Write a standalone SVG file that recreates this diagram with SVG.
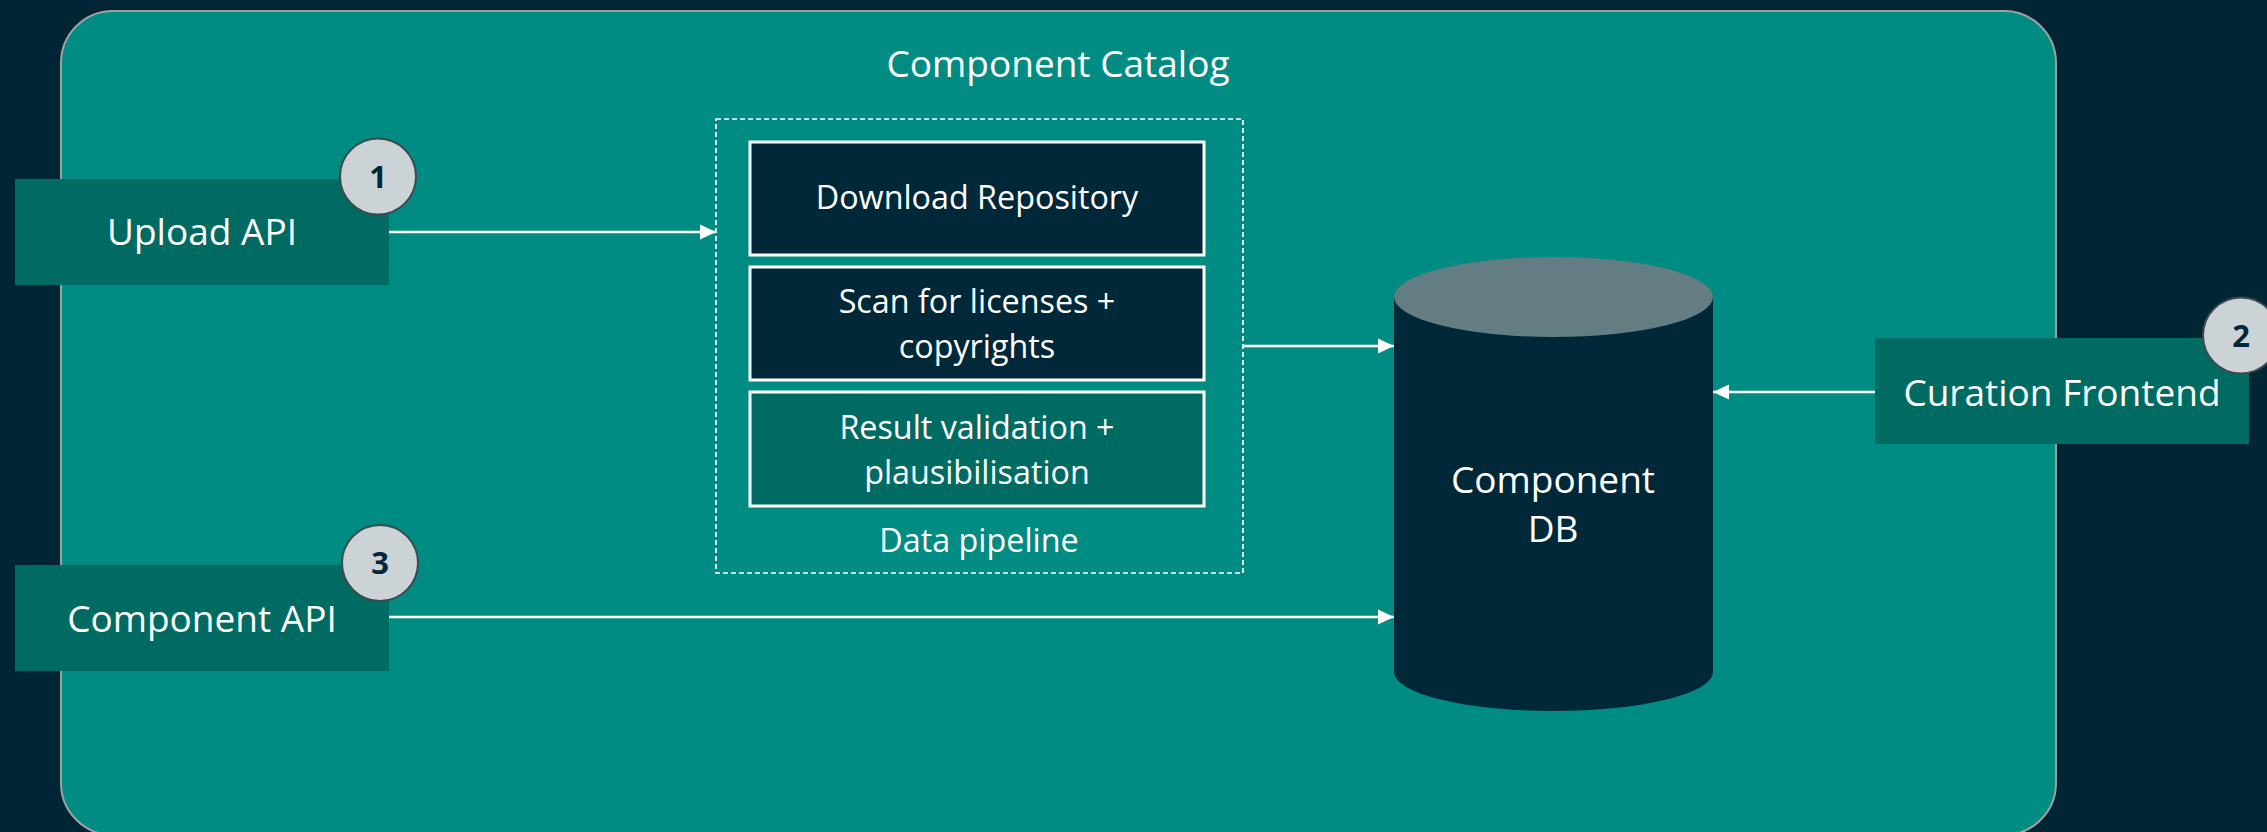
<svg xmlns="http://www.w3.org/2000/svg" width="2267" height="832" viewBox="0 0 2267 832">
  <style>
    .lbl { font-family: "Open Sans", "Noto Sans", "DejaVu Sans", sans-serif; fill: #ffffff; text-anchor: middle; }
    .big { font-size: 37px; }
    .mid { font-size: 32.3px; }
    .node { fill: #006B62; }
    .step { stroke: #ffffff; stroke-width: 3; }
    .dark { fill: #002838; }
    .badge circle { fill: #CCD3D7; stroke: #3D4850; stroke-width: 2; }
    .badge text { font-family: "Open Sans", "Noto Sans", "DejaVu Sans", sans-serif; font-weight: bold; font-size: 31px; fill: #002838; text-anchor: middle; }
    .conn { stroke: #ffffff; stroke-width: 2.5; fill: none; marker-end: url(#arrow); }
  </style>
  <defs>
    <marker id="arrow" markerUnits="userSpaceOnUse" markerWidth="16" markerHeight="16" refX="16" refY="8" orient="auto">
      <path d="M0,0.5 L16,8 L0,15.5 Z" fill="#ffffff"/>
    </marker>
  </defs>

  <!-- page background -->
  <rect x="0" y="0" width="2267" height="832" fill="#002636"/>

  <!-- catalog container -->
  <g id="component-catalog">
    <rect x="61" y="11" width="1995" height="824" rx="52" ry="52" fill="#008C82" stroke="#A0A0A0" stroke-width="2"/>
    <text class="lbl" x="1058" y="77" font-size="37">Component Catalog</text>
  </g>

  <!-- data pipeline -->
  <g id="data-pipeline">
    <rect x="716" y="119" width="527" height="454" fill="none" stroke="#ffffff" stroke-width="1.6" stroke-dasharray="5 3"/>
    <text class="lbl mid" x="979" y="552">Data pipeline</text>
  </g>
  <g id="download-repository">
    <rect class="dark step" x="750" y="142" width="454" height="113"/>
    <text class="lbl mid" x="977" y="209">Download Repository</text>
  </g>
  <g id="scan-licenses">
    <rect class="dark step" x="750" y="267" width="454" height="113"/>
    <text class="lbl mid" x="977" y="312.5">Scan for licenses +</text>
    <text class="lbl mid" x="977" y="357.5">copyrights</text>
  </g>
  <g id="result-validation">
    <rect class="node step" x="750" y="392" width="454" height="114"/>
    <text class="lbl mid" x="977" y="438.5">Result validation +</text>
    <text class="lbl mid" x="977" y="483.5">plausibilisation</text>
  </g>

  <!-- database -->
  <g id="component-db">
    <path d="M1394 297 V672 A159.5 39 0 0 0 1713 672 V297 Z" fill="#002838"/>
    <ellipse cx="1553.5" cy="297" rx="159.5" ry="40" fill="#647D82"/>
    <text class="lbl big" x="1553" y="493">Component</text>
    <text class="lbl big" x="1553" y="542">DB</text>
  </g>

  <!-- connectors -->
  <g id="connectors">
    <path class="conn" d="M389 232 H716"/>
    <path class="conn" d="M1243 346 H1394"/>
    <path class="conn" d="M1875 392 H1713"/>
    <path class="conn" d="M389 617 H1394"/>
  </g>

  <!-- entry points -->
  <g id="upload-api">
    <rect class="node" x="15" y="179" width="374" height="106"/>
    <text class="lbl big" x="202" y="245">Upload API</text>
    <g class="badge">
      <circle cx="378" cy="176.5" r="38"/>
      <text x="378" y="188">1</text>
    </g>
  </g>
  <g id="component-api">
    <rect class="node" x="15" y="565" width="374" height="106"/>
    <text class="lbl big" x="202" y="632">Component API</text>
    <g class="badge">
      <circle cx="380" cy="563" r="38"/>
      <text x="380" y="574">3</text>
    </g>
  </g>
  <g id="curation-frontend">
    <rect class="node" x="1875" y="338" width="374" height="106"/>
    <text class="lbl big" x="2062" y="406">Curation Frontend</text>
    <g class="badge">
      <circle cx="2241" cy="335.5" r="38"/>
      <text x="2241" y="347">2</text>
    </g>
  </g>
</svg>
